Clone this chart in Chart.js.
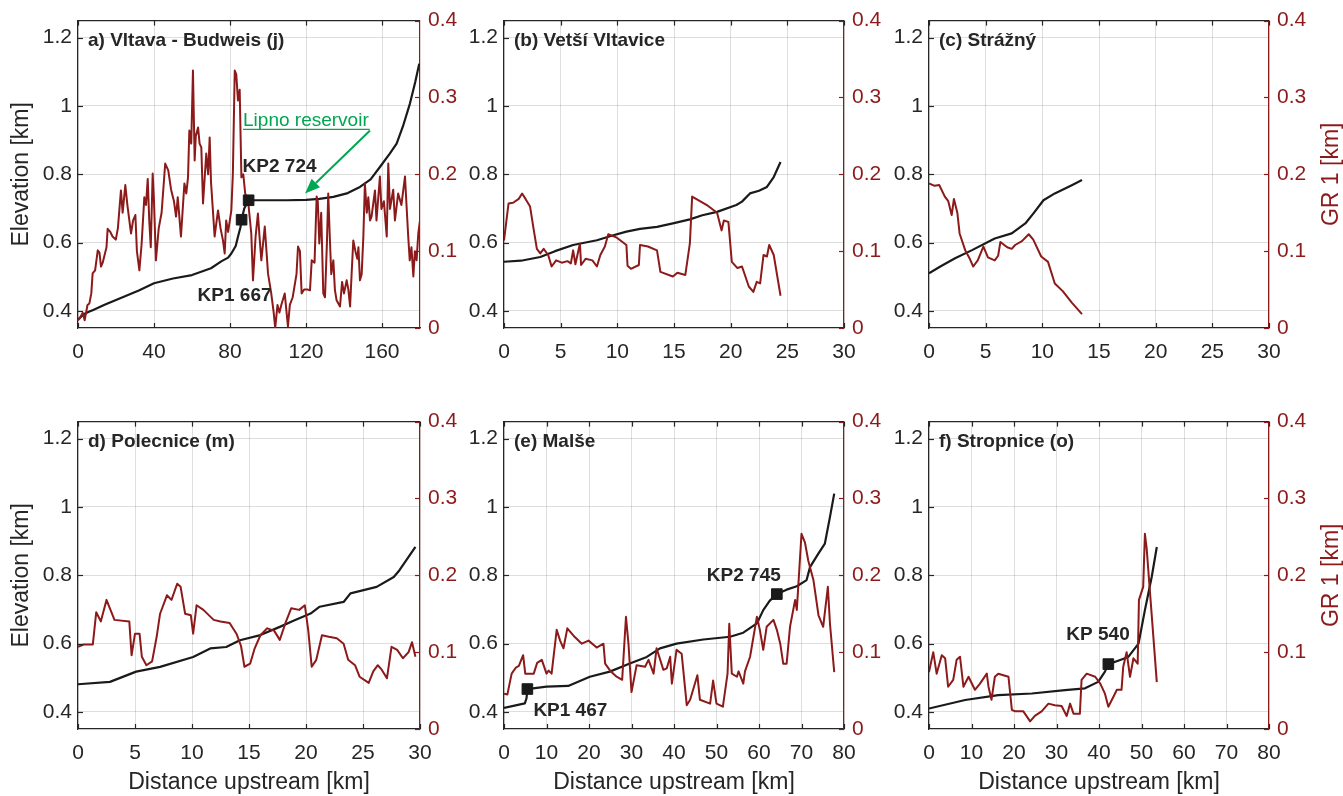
<!DOCTYPE html>
<html>
<head>
<meta charset="utf-8">
<script src="https://cdn.jsdelivr.net/npm/chart.js@4.4.1/dist/chart.umd.min.js"></script>
<style>
  html, body { margin: 0; padding: 0; background: #ffffff; }
  #wrap { position: relative; width: 1343px; height: 796px; overflow: hidden; }
  #wrap canvas { position: absolute; }
</style>
</head>
<body>
<div id="wrap"></div>
<script>
// ---- tick values -------------------------------------------------------
const elevTicks = [0.4, 0.6, 0.8, 1, 1.2];
const grTicks = [0, 0.1, 0.2, 0.3, 0.4];
const xTicks180 = [0, 40, 80, 120, 160];
const xTicks30 = [0, 5, 10, 15, 20, 25, 30];
const xTicks80 = [0, 10, 20, 30, 40, 50, 60, 70, 80];

// ---- a) Vltava - Budweis (j) -------------------------------------------
const aElevKm = [0, 3, 6, 8, 14, 20, 26, 32, 40, 50, 60, 70, 75.4, 79, 80.7, 83, 84.2, 85.5, 86.1, 87.5, 89.8, 100, 110, 120, 127, 134.4, 142, 148.4, 154, 159, 164, 167.7, 171, 174.7, 177.5, 179.6];
const aElev = [0.375, 0.39, 0.398, 0.403, 0.418, 0.432, 0.446, 0.46, 0.481, 0.495, 0.505, 0.525, 0.545, 0.556, 0.568, 0.59, 0.617, 0.645, 0.667, 0.70, 0.724, 0.724, 0.724, 0.725, 0.728, 0.734, 0.745, 0.763, 0.785, 0.822, 0.86, 0.89, 0.94, 1.007, 1.07, 1.124];
const aGrKm = [0, 1, 2.5, 3.5, 5, 6, 7, 7.7, 9, 10.4, 11.3, 12.1, 13, 13.9, 15, 15.6, 17, 18.2, 19.9, 21, 22.6, 23.5, 24.9, 26, 27.9, 29, 30.2, 31, 32.3, 33.5, 34.9, 35.8, 36.7, 37.5, 38.3, 39.3, 40, 41, 42.5, 44, 45.9, 47.5, 49, 50.5, 51.6, 52.5, 54.2, 55, 56, 57, 57.9, 58.6, 59.6, 60.5, 61.4, 62, 63.2, 64, 64.9, 65.8, 67.5, 68.5, 69.3, 70, 71, 71.9, 73, 73.7, 75, 76.3, 77.2, 78, 79, 80.7, 81.5, 82.5, 83.3, 84.2, 85.1, 86, 87, 88, 89.5, 91.2, 92.1, 93.5, 94.7, 95.5, 96.5, 98.3, 99.2, 100, 101.7, 103, 103.8, 105, 106, 107, 108.8, 110.5, 111.5, 113, 115, 115.8, 116.8, 117.7, 119, 121, 122.1, 123, 124.5, 125.6, 126.2, 127, 128, 129.1, 130, 131, 131.7, 132.5, 133.3, 134.4, 135.2, 136.1, 137.9, 139, 140, 141.4, 142.3, 143.2, 144, 144.9, 146, 147, 147.6, 148.4, 149.3, 150.2, 151, 152, 152.8, 153.7, 154.5, 156.3, 157.1, 158.9, 159.7, 161, 162.5, 163.3, 164.2, 165.9, 166.8, 168.5, 170.2, 172.1, 172.9, 173.8, 174.6, 175.5, 176.5, 177.3, 178.2, 179.1, 180];
const aGr = [0.01, 0.013, 0.02, 0.01, 0.03, 0.032, 0.045, 0.071, 0.075, 0.101, 0.098, 0.08, 0.085, 0.094, 0.105, 0.129, 0.125, 0.119, 0.115, 0.13, 0.179, 0.15, 0.186, 0.16, 0.123, 0.14, 0.147, 0.10, 0.075, 0.11, 0.17, 0.16, 0.194, 0.14, 0.105, 0.201, 0.165, 0.088, 0.13, 0.15, 0.214, 0.205, 0.18, 0.165, 0.145, 0.17, 0.119, 0.15, 0.188, 0.175, 0.196, 0.257, 0.24, 0.335, 0.218, 0.25, 0.261, 0.24, 0.235, 0.162, 0.227, 0.20, 0.248, 0.19, 0.153, 0.119, 0.14, 0.153, 0.13, 0.114, 0.097, 0.14, 0.125, 0.153, 0.2, 0.335, 0.33, 0.296, 0.31, 0.196, 0.20, 0.175, 0.166, 0.123, 0.062, 0.12, 0.149, 0.12, 0.088, 0.132, 0.10, 0.071, 0.045, 0.02, 0, 0.03, 0.02, 0.03, 0.045, 0.002, 0.03, 0.04, 0.07, 0.106, 0.10, 0.045, 0.05, 0.05, 0.049, 0.088, 0.085, 0.171, 0.165, 0.11, 0.15, 0.045, 0.04, 0.11, 0.175, 0.12, 0.07, 0.088, 0.05, 0.036, 0.028, 0.06, 0.045, 0.062, 0.05, 0.028, 0.07, 0.114, 0.10, 0.09, 0.105, 0.062, 0.07, 0.12, 0.188, 0.15, 0.17, 0.14, 0.145, 0.179, 0.14, 0.197, 0.155, 0.165, 0.119, 0.214, 0.155, 0.18, 0.14, 0.175, 0.16, 0.197, 0.16, 0.119, 0.088, 0.105, 0.067, 0.10, 0.088, 0.123, 0.14];
const aKpKm = [86.1, 89.8];
const aKpElev = [0.667, 0.724];
const aKpName = ['KP1', 'KP2'];

// ---- (b) Vetší Vltavice ------------------------------------------------
const bElevKm = [0, 1.5, 3.2, 4.5, 6.1, 8.2, 9.5, 10.8, 12, 13.5, 15, 16.4, 17.5, 18.8, 20.5, 21, 21.7, 22.5, 23.2, 23.8, 24.4];
const bElev = [0.544, 0.547, 0.558, 0.575, 0.593, 0.607, 0.62, 0.632, 0.64, 0.646, 0.657, 0.668, 0.68, 0.69, 0.71, 0.72, 0.744, 0.752, 0.763, 0.792, 0.836];
const bGrKm = [0, 0.4, 0.8, 1.3, 1.6, 1.9, 2.3, 2.6, 2.9, 3.2, 3.5, 3.9, 4.2, 4.6, 5.1, 5.6, 5.9, 6.1, 6.3, 6.7, 6.8, 7.2, 7.8, 8.2, 8.5, 8.9, 9.2, 9.9, 10.8, 10.9, 11.2, 11.9, 12, 12.7, 13.5, 13.8, 14.9, 15.3, 16, 16.4, 16.6, 17.9, 18.8, 19.2, 19.4, 19.8, 20.1, 20.6, 21, 21.6, 22, 22.3, 22.6, 22.9, 23.2, 23.4, 23.8, 24.4];
const bGr = [0.114, 0.162, 0.163, 0.168, 0.175, 0.168, 0.158, 0.13, 0.103, 0.097, 0.103, 0.095, 0.08, 0.088, 0.085, 0.087, 0.084, 0.101, 0.083, 0.11, 0.082, 0.09, 0.088, 0.08, 0.095, 0.106, 0.122, 0.118, 0.108, 0.081, 0.077, 0.082, 0.108, 0.106, 0.101, 0.073, 0.067, 0.072, 0.069, 0.11, 0.171, 0.16, 0.15, 0.127, 0.14, 0.138, 0.086, 0.078, 0.08, 0.054, 0.047, 0.06, 0.058, 0.095, 0.093, 0.108, 0.095, 0.042];

// ---- (c) Strážný -------------------------------------------------------
const cElevKm = [0, 1, 2.3, 3.8, 5.8, 7.3, 8.5, 9.2, 10.1, 11.1, 12.6, 13.5];
const cElev = [0.51, 0.53, 0.554, 0.578, 0.612, 0.627, 0.656, 0.685, 0.724, 0.744, 0.768, 0.783];
const cGrKm = [0, 0.5, 0.9, 1.4, 1.7, 2, 2.2, 2.5, 2.7, 3.2, 3.6, 3.9, 4.3, 4.8, 5.2, 5.8, 6.1, 6.3, 6.9, 7.3, 7.6, 8.2, 8.8, 9.2, 9.9, 10.5, 11.1, 11.8, 12.6, 13.5];
const cGr = [0.188, 0.185, 0.186, 0.171, 0.165, 0.147, 0.168, 0.15, 0.123, 0.101, 0.09, 0.08, 0.088, 0.106, 0.092, 0.088, 0.094, 0.112, 0.105, 0.103, 0.108, 0.113, 0.122, 0.115, 0.093, 0.086, 0.058, 0.048, 0.033, 0.018];

// ---- d) Polecnice (m) --------------------------------------------------
const dElevKm = [0, 2.8, 5.1, 7.2, 10.1, 11.6, 13, 14.2, 16, 17.7, 18.9, 20.4, 21.2, 23.3, 23.9, 26.2, 27.7, 28.2, 29.6];
const dElev = [0.481, 0.488, 0.518, 0.532, 0.561, 0.586, 0.59, 0.61, 0.625, 0.649, 0.667, 0.688, 0.708, 0.722, 0.747, 0.766, 0.795, 0.815, 0.883];
const dGrKm = [0, 0.5, 1.3, 1.6, 2, 2.5, 3.2, 4.5, 4.7, 5, 5.4, 5.6, 6, 6.5, 6.9, 7.2, 7.8, 8.2, 8.7, 9, 9.4, 9.9, 10.1, 10.4, 11, 11.9, 12.5, 13.3, 13.9, 14.3, 14.6, 15.1, 15.5, 16, 16.6, 17.2, 17.7, 18.2, 18.7, 19.4, 19.9, 20.2, 20.5, 20.9, 21.4, 22, 22.7, 23.3, 23.7, 24.3, 24.7, 25.5, 25.9, 26.3, 26.6, 27.1, 27.5, 28, 28.5, 29, 29.3, 29.6];
const dGr = [0.107, 0.11, 0.11, 0.152, 0.14, 0.168, 0.142, 0.14, 0.096, 0.124, 0.124, 0.094, 0.083, 0.088, 0.12, 0.15, 0.174, 0.168, 0.189, 0.185, 0.15, 0.148, 0.124, 0.161, 0.155, 0.142, 0.14, 0.138, 0.124, 0.108, 0.081, 0.085, 0.105, 0.122, 0.131, 0.128, 0.116, 0.138, 0.157, 0.155, 0.161, 0.128, 0.081, 0.09, 0.122, 0.12, 0.118, 0.111, 0.09, 0.083, 0.068, 0.06, 0.075, 0.083, 0.078, 0.066, 0.107, 0.103, 0.092, 0.1, 0.113, 0.094];

// ---- (e) Malše ---------------------------------------------------------
const eElevKm = [0, 4.9, 5.3, 5.5, 10, 15.1, 20.2, 24.9, 29.6, 33.6, 36.7, 40.6, 46.9, 53.2, 56.3, 59.5, 61, 62.5, 64.2, 66.5, 68.9, 71.2, 72, 74, 75.5, 76.7, 77.7];
const eElev = [0.412, 0.425, 0.44, 0.467, 0.474, 0.476, 0.503, 0.518, 0.542, 0.561, 0.586, 0.6, 0.612, 0.62, 0.632, 0.659, 0.698, 0.725, 0.745, 0.758, 0.768, 0.786, 0.824, 0.864, 0.893, 0.971, 1.039];
const eGrKm = [0, 0.8, 1.8, 2.8, 3.5, 4.5, 5, 7, 7.8, 8.9, 10, 10.5, 11.2, 12.4, 13.2, 14, 14.9, 16.6, 18.3, 19.9, 21.8, 23.4, 23.8, 25.1, 26.5, 27.8, 28.7, 29.3, 30, 31.2, 33.2, 34, 35.2, 35.9, 37.5, 38.3, 39.1, 39.5, 40.6, 41.8, 43, 43.8, 45.5, 46.1, 48.5, 49.2, 50, 51.5, 52.6, 53, 53.6, 54.8, 55.2, 56.3, 56.7, 57.9, 58.7, 59.5, 60.2, 61, 61.8, 63.4, 64.2, 65, 65.7, 66.5, 67.3, 68.5, 68.9, 70, 70.8, 71.6, 72.8, 74, 75.1, 76.2, 76.7, 77.7];
const eGr = [0.046, 0.045, 0.072, 0.08, 0.082, 0.096, 0.072, 0.072, 0.086, 0.09, 0.072, 0.076, 0.072, 0.129, 0.115, 0.105, 0.131, 0.12, 0.111, 0.115, 0.106, 0.111, 0.085, 0.075, 0.068, 0.064, 0.146, 0.11, 0.048, 0.083, 0.081, 0.09, 0.072, 0.105, 0.077, 0.079, 0.094, 0.059, 0.103, 0.098, 0.031, 0.038, 0.07, 0.038, 0.033, 0.063, 0.033, 0.029, 0.072, 0.137, 0.072, 0.068, 0.075, 0.059, 0.075, 0.094, 0.12, 0.146, 0.129, 0.103, 0.133, 0.142, 0.129, 0.111, 0.085, 0.085, 0.133, 0.168, 0.155, 0.254, 0.243, 0.219, 0.194, 0.148, 0.133, 0.185, 0.137, 0.074];
const eKpKm = [5.5, 64.2];
const eKpElev = [0.467, 0.745];
const eKpName = ['KP1', 'KP2'];

// ---- f) Stropnice (o) --------------------------------------------------
const fElevKm = [0, 8.5, 16.3, 24.2, 32, 36.7, 39.8, 41.4, 42.2, 44.5, 46.9, 49.3, 50.8, 52.4, 53.6];
const fElev = [0.41, 0.435, 0.449, 0.454, 0.464, 0.469, 0.488, 0.518, 0.540, 0.55, 0.561, 0.6, 0.698, 0.795, 0.883];
const fGrKm = [0, 1, 1.8, 3, 3.8, 4.5, 5.7, 6.5, 7.3, 8.1, 9.3, 10.8, 12, 13.6, 14, 14.7, 15.5, 16.3, 17.5, 18.7, 19.5, 20.3, 22.2, 23.8, 24.9, 26.5, 28.1, 29.6, 31.2, 32.4, 33.2, 34, 35.5, 35.9, 37.1, 39.1, 40.3, 41.4, 42.2, 43.4, 44.2, 45.3, 45.7, 46.5, 47.3, 48.1, 49.1, 49.4, 50.4, 50.8, 51.2, 53.6];
const fGr = [0.074, 0.1, 0.072, 0.096, 0.092, 0.055, 0.064, 0.09, 0.094, 0.055, 0.068, 0.051, 0.059, 0.072, 0.055, 0.038, 0.068, 0.072, 0.07, 0.068, 0.025, 0.023, 0.023, 0.01, 0.017, 0.023, 0.033, 0.031, 0.03, 0.017, 0.033, 0.02, 0.02, 0.064, 0.072, 0.068, 0.059, 0.046, 0.029, 0.042, 0.051, 0.051, 0.081, 0.1, 0.068, 0.092, 0.085, 0.168, 0.185, 0.254, 0.236, 0.061];
const fKpKm = [42.2];
const fKpElev = [0.540];
const fKpName = ['KP'];

// ---- styling -------------------------------------------------------------
const INK = '#262626';
const LINE_BLACK = '#1a1a1a';
const RED = '#8c1a1a';
const GRID = 'rgba(0,0,0,0.13)';
const GREEN = '#00a651';
const FAMILY = '"Liberation Sans", Arial, Helvetica, sans-serif';
const TICK_SIZE = 21;
const TITLE_SIZE = 23;
Chart.defaults.font.family = FAMILY;

const zip = (xs, ys) => xs.map((x, i) => ({ x: x, y: ys[i] }));
const fmt = v => String(Number(v.toFixed(2)));

// plot-area geometry of the 3x2 grid
const COLS = [{ left: 78, width: 342 }, { left: 504, width: 340 }, { left: 929, width: 340 }];
const ROWS = [{ top: 20 }, { top: 421 }];
const PLOT_H = 308, LEFT_W = 78, RIGHT_W = 74, BOTTOM_H = 67, PAD_TOP = 20;

const panels = [
  { title: 'a) Vltava - Budweis (j)', col: 0, row: 0, xMax: 180, xTicks: xTicks180,
    elevKm: aElevKm, elev: aElev, grKm: aGrKm, gr: aGr,
    kp: { km: aKpKm, elev: aKpElev, name: aKpName, off: [[-44, 76], [-6, -33]] },
    reservoir: { x: 119.5, y: 0.744, text: 'Lipno reservoir' } },
  { title: '(b) Vetší Vltavice', col: 1, row: 0, xMax: 30, xTicks: xTicks30,
    elevKm: bElevKm, elev: bElev, grKm: bGrKm, gr: bGr },
  { title: '(c) Strážný', col: 2, row: 0, xMax: 30, xTicks: xTicks30,
    elevKm: cElevKm, elev: cElev, grKm: cGrKm, gr: cGr },
  { title: 'd) Polecnice (m)', col: 0, row: 1, xMax: 30, xTicks: xTicks30,
    elevKm: dElevKm, elev: dElev, grKm: dGrKm, gr: dGr },
  { title: '(e) Malše', col: 1, row: 1, xMax: 80, xTicks: xTicks80,
    elevKm: eElevKm, elev: eElev, grKm: eGrKm, gr: eGr,
    kp: { km: eKpKm, elev: eKpElev, name: eKpName, off: [[6, 22], [-70, -18]] } },
  { title: 'f) Stropnice (o)', col: 2, row: 1, xMax: 80, xTicks: xTicks80,
    elevKm: fElevKm, elev: fElev, grKm: fGrKm, gr: fGr,
    kp: { km: fKpKm, elev: fKpElev, name: fKpName, off: [[-42, -29]] } }
];

function line(ctx, x1, y1, x2, y2) {
  ctx.beginPath(); ctx.moveTo(x1, y1); ctx.lineTo(x2, y2); ctx.stroke();
}

// top edge of the box and inward tick marks on every side
const boxTicks = {
  id: 'boxTicks',
  afterDatasetsDraw(chart) {
    const { ctx, chartArea: a, scales } = chart;
    const L = 5;
    ctx.save();
    ctx.lineWidth = 1.2;
    ctx.strokeStyle = INK;
    line(ctx, a.left, a.top, a.right, a.top);
    scales.x.ticks.forEach(t => {
      const px = Math.round(scales.x.getPixelForValue(t.value)) + 0.5;
      line(ctx, px, a.bottom, px, a.bottom - L);
      line(ctx, px, a.top, px, a.top + L);
    });
    scales.y.ticks.forEach(t => {
      const py = Math.round(scales.y.getPixelForValue(t.value)) + 0.5;
      line(ctx, a.left, py, a.left + L, py);
    });
    ctx.strokeStyle = RED;
    scales.y2.ticks.forEach(t => {
      const py = Math.round(scales.y2.getPixelForValue(t.value)) + 0.5;
      line(ctx, a.right, py, a.right - L, py);
    });
    ctx.restore();
  }
};

// panel captions, KP labels, reservoir note and the right-hand axis title
function textLayer(p) {
  return {
    id: 'textLayer',
    afterDraw(chart) {
      const { ctx, chartArea: a, scales } = chart;
      ctx.save();
      ctx.fillStyle = INK;
      ctx.font = 'bold 19px ' + FAMILY;
      ctx.textAlign = 'left';
      ctx.textBaseline = 'middle';
      ctx.fillText(p.title, a.left + 10, a.top + 20);

      if (p.kp) {
        p.kp.km.forEach((km, i) => {
          const px = scales.x.getPixelForValue(km);
          const py = scales.y.getPixelForValue(p.kp.elev[i]);
          const label = p.kp.name[i] + ' ' + Math.round(p.kp.elev[i] * 1000);
          ctx.fillText(label, px + p.kp.off[i][0], py + p.kp.off[i][1]);
        });
      }

      if (p.reservoir) {
        const tx = scales.x.getPixelForValue(p.reservoir.x);
        const ty = scales.y.getPixelForValue(p.reservoir.y);
        const sx = tx + 65, sy = ty - 63;
        ctx.fillStyle = GREEN;
        ctx.strokeStyle = GREEN;
        ctx.font = '19px ' + FAMILY;
        ctx.textBaseline = 'alphabetic';
        const textX = tx - 62, textY = ty - 67;
        ctx.fillText(p.reservoir.text, textX, textY);
        const w = ctx.measureText(p.reservoir.text).width;
        ctx.lineWidth = 1.3;
        line(ctx, textX, textY + 3, textX + w + 1, textY + 3);
        // arrow
        const ang = Math.atan2(ty - sy, tx - sx);
        const head = 15, half = 6;
        const bx = tx - head * Math.cos(ang), by = ty - head * Math.sin(ang);
        ctx.lineWidth = 2;
        line(ctx, sx, sy, bx, by);
        ctx.beginPath();
        ctx.moveTo(tx, ty);
        ctx.lineTo(bx + half * Math.sin(ang), by - half * Math.cos(ang));
        ctx.lineTo(bx - half * Math.sin(ang), by + half * Math.cos(ang));
        ctx.closePath();
        ctx.fill();
      }

      if (p.col === 2) {
        ctx.fillStyle = RED;
        ctx.font = TITLE_SIZE + 'px ' + FAMILY;
        ctx.textAlign = 'center';
        ctx.textBaseline = 'middle';
        ctx.translate(chart.width - 11, (a.top + a.bottom) / 2);
        ctx.rotate(-Math.PI / 2);
        ctx.fillText('GR 1 [km]', 0, 0);
      }
      ctx.restore();
    }
  };
}

const wrap = document.getElementById('wrap');

panels.forEach(p => {
  const c = COLS[p.col], r = ROWS[p.row];
  const canvas = document.createElement('canvas');
  const W = LEFT_W + c.width + RIGHT_W;
  const H = PAD_TOP + PLOT_H + BOTTOM_H;
  canvas.width = W; canvas.height = H;
  canvas.style.width = W + 'px'; canvas.style.height = H + 'px';
  canvas.style.left = (c.left - LEFT_W) + 'px';
  canvas.style.top = (r.top - PAD_TOP) + 'px';
  wrap.appendChild(canvas);

  const datasets = [
    { label: 'Elevation', data: zip(p.elevKm, p.elev), yAxisID: 'y',
      borderColor: LINE_BLACK, borderWidth: 2.2, pointRadius: 0, order: 2, borderJoinStyle: 'round' },
    { label: 'GR 1', data: zip(p.grKm, p.gr), yAxisID: 'y2',
      borderColor: RED, borderWidth: 2, pointRadius: 0, order: 1, borderJoinStyle: 'round' }
  ];
  if (p.kp) {
    datasets.push({ label: 'KP', data: zip(p.kp.km, p.kp.elev), yAxisID: 'y', showLine: false,
      pointStyle: 'rect', pointRadius: 7.5, pointBackgroundColor: LINE_BLACK,
      pointBorderColor: LINE_BLACK, pointBorderWidth: 1, order: 0 });
  }

  new Chart(canvas, {
    type: 'line',
    data: { datasets: datasets },
    options: {
      responsive: false,
      animation: false,
      devicePixelRatio: 1,
      events: [],
      layout: { padding: { top: PAD_TOP, left: 0, right: 0, bottom: 0 } },
      plugins: { legend: { display: false }, tooltip: { enabled: false } },
      scales: {
        x: {
          type: 'linear', position: 'bottom', min: 0, max: p.xMax,
          afterBuildTicks: s => { s.ticks = p.xTicks.map(v => ({ value: v })); },
          afterFit: s => { s.height = BOTTOM_H; },
          grid: { color: GRID, drawTicks: false },
          border: { color: INK, width: 1.2 },
          ticks: { padding: 12, color: INK, font: { size: TICK_SIZE }, autoSkip: false, maxRotation: 0, callback: v => fmt(v) },
          title: { display: p.row === 1, text: 'Distance upstream [km]', color: INK, font: { size: TITLE_SIZE }, padding: { top: 0, bottom: 0 } }
        },
        y: {
          type: 'linear', position: 'left', min: 0.35, max: 1.25,
          afterBuildTicks: s => { s.ticks = elevTicks.map(v => ({ value: v })); },
          afterFit: s => { s.width = LEFT_W; },
          grid: { color: GRID, drawTicks: false },
          border: { color: INK, width: 1.2 },
          ticks: { padding: 6, color: INK, font: { size: TICK_SIZE }, callback: v => fmt(v) },
          title: { display: p.col === 0, text: 'Elevation [km]', color: INK, font: { size: TITLE_SIZE }, padding: { top: 8, bottom: 0 } }
        },
        y2: {
          type: 'linear', position: 'right', min: 0, max: 0.4,
          afterBuildTicks: s => { s.ticks = grTicks.map(v => ({ value: v })); },
          afterFit: s => { s.width = RIGHT_W; },
          grid: { display: false, drawTicks: false },
          border: { color: RED, width: 1.2 },
          ticks: { padding: 8, color: RED, font: { size: TICK_SIZE }, callback: v => fmt(v) }
        }
      }
    },
    plugins: [boxTicks, textLayer(p)]
  });
});
</script>
</body>
</html>
